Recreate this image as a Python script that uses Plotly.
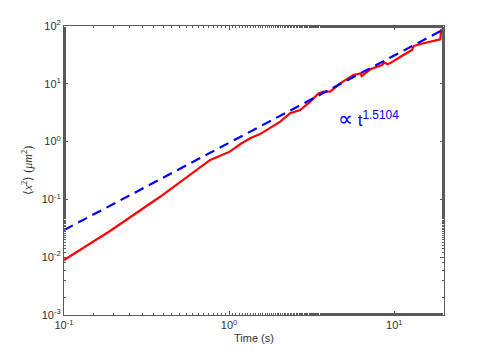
import plotly.graph_objects as go

# MSD curve
t_msd = [0.1, 0.19, 0.382, 0.768, 1.01, 1.166, 1.34, 1.54, 2.04, 2.34, 2.69, 3.10, 3.47,
         3.73, 4.09, 4.71, 5.66, 6.22, 6.35, 7.16, 8.42, 8.7, 9.1, 9.5, 10.9, 12.8, 13.1,
         14.4, 19.0, 19.2, 20.0]
msd = [0.0089, 0.0284, 0.111, 0.481, 0.67, 0.90, 1.14, 1.35, 2.21, 3.09, 3.52, 4.9, 6.8,
       7.3, 7.3, 10.2, 14.2, 15.1, 13.6, 17.8, 21.1, 23.5, 21.8, 23.0, 29.4, 38.5, 45.0,
       48.9, 58.9, 85.0, 91.0]

# power-law fit line (straight in log-log)
t_fit = [0.1, 20.0]
msd_fit = [0.0295, 88.0]
fit_label = "<span style='font-size:21px'>\u221d</span> t<sup>1.5104</sup>"

x_ticks = [0.1, 1, 10]
x_text = ["10<sup>-1</sup>", "10<sup>0</sup>", "10<sup>1</sup>"]
y_ticks = [1e-3, 1e-2, 1e-1, 1, 10, 100]
y_text = ["10<sup>-3</sup>", "10<sup>-2</sup>", "10<sup>-1</sup>",
          "10<sup>0</sup>", "10<sup>1</sup>", "10<sup>2</sup>"]

fig = go.Figure()
fig.add_trace(go.Scatter(x=t_msd, y=msd, mode="lines",
                         line=dict(color="#ff0000", width=2.2)))
fig.add_trace(go.Scatter(x=t_fit, y=msd_fit, mode="lines",
                         line=dict(color="#0000ff", width=2.2, dash="10px,6px")))

axis_col = "#5a5a5a"
common = dict(type="log", showgrid=False, zeroline=False, showline=True,
              linecolor=axis_col, linewidth=1, mirror="ticks", ticks="inside",
              ticklen=4, tickcolor=axis_col, automargin=False,
              tickfont=dict(family="Liberation Sans", size=11, color="#333333"),
              minor=dict(ticks="inside", ticklen=2, tickcolor=axis_col, showgrid=False))

fig.update_xaxes(range=[-1, 1.30103], tickvals=x_ticks, ticktext=x_text,
                 title=dict(text="Time (s)", standoff=4,
                            font=dict(family="Liberation Sans", size=11, color="#333333")),
                 **common)
fig.update_yaxes(range=[-3, 2], tickvals=y_ticks, ticktext=y_text,
                 title=dict(text="\u27e8<i>x</i><sup>2</sup>\u27e9 (<i>\u03bcm</i><sup>2</sup>)",
                            standoff=6,
                            font=dict(family="Liberation Serif", size=12, color="#333333")),
                 **common)

fig.add_annotation(x=0.845, y=0.40, xref="x", yref="y", text=fit_label,
                   showarrow=False,
                   font=dict(family="Liberation Sans", size=17, color="#0000ff"))

# page body adds an 8px offset, so the figure is a bit smaller than the window
fig.update_layout(width=483, height=346, showlegend=False,
                  plot_bgcolor="white", paper_bgcolor="white",
                  margin=dict(l=56, r=47, t=18, b=39))

fig.write_html("out.html")
